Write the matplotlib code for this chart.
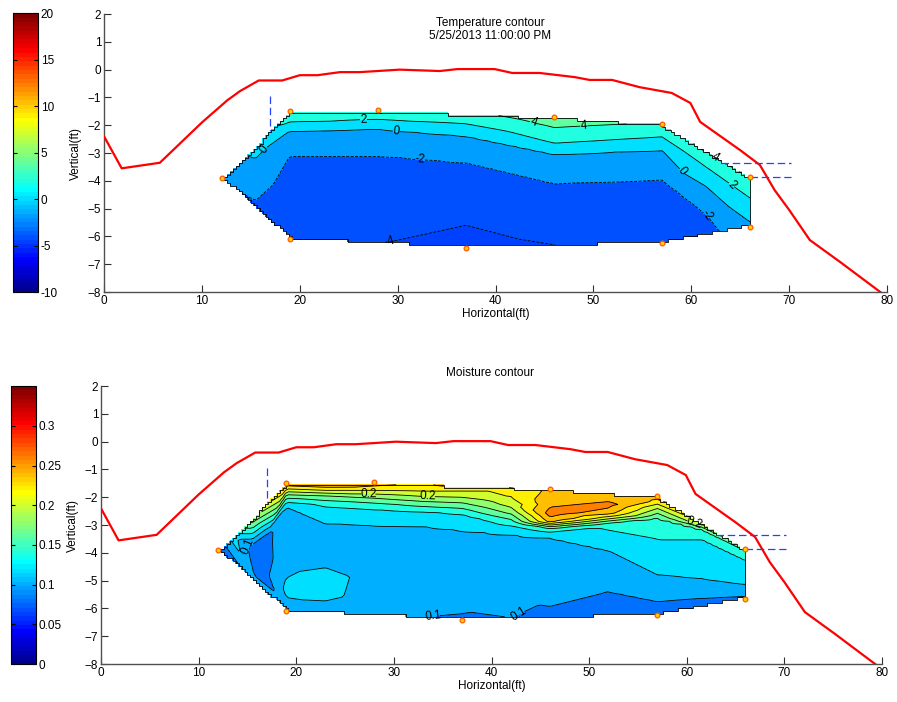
import numpy as np
import matplotlib.pyplot as plt
import matplotlib.tri as mtri
from matplotlib.colors import Normalize, ListedColormap
from matplotlib.cm import ScalarMappable
from matplotlib.ticker import FormatStrFormatter

plt.rcParams['font.family'] = ['Liberation Sans', 'DejaVu Sans']
plt.rcParams['font.size'] = 8.5

# embankment surface profile (ft)
surf_x = [0, 1.8, 5.7, 10, 12.6, 13.9, 15.8, 18.2, 20, 21.8, 24.1, 26.1, 30.2, 34.3,
          36.1, 39.9, 41.7, 44.5, 48.1, 49.6, 51.9, 54.7, 58.0, 59.9, 60.9, 65.0,
          67.0, 68.5, 70.0, 72.1, 75.2, 79.3]
surf_y = [-2.4, -3.55, -3.35, -1.9, -1.1, -0.77, -0.39, -0.39, -0.2, -0.2, -0.09, -0.09,
          0.0, -0.05, 0.02, 0.02, -0.12, -0.12, -0.27, -0.37, -0.37, -0.63, -0.84, -1.2,
          -1.88, -2.9, -3.43, -4.33, -5.05, -6.13, -6.92, -8.0]

# outer sensor ring
sens_x = [12, 19, 28, 46, 57, 66, 66, 57, 37, 19]
sens_y = [-3.9, -1.5, -1.45, -1.7, -1.95, -3.85, -5.65, -6.25, -6.4, -6.1]

# temperature readings at all probes
temp_x = [12,
          15.5, 15.5, 15.5,
          19, 19, 19, 19, 19, 19,
          28, 28, 28, 28, 28, 28,
          37, 37, 37, 37, 37, 37,
          46, 46, 46, 46, 46, 46, 46,
          57, 57, 57, 57, 57,
          61.5, 61.5, 61.5, 61.5, 61.5,
          66, 66, 66, 66]
temp_y = [-3.9,
          -2.72, -3.8, -4.98,
          -1.5, -1.9, -2.2, -3.1, -4.5, -6.1,
          -1.45, -1.8, -2.15, -3.1, -4.6, -6.22,
          -1.6, -1.95, -2.4, -3.35, -5.6, -6.4,
          -1.7, -2.0, -2.65, -3.05, -4.1, -5.9, -6.3,
          -1.95, -2.42, -2.9, -3.97, -6.25,
          -2.93, -3.5, -4.2, -5.2, -5.92,
          -3.85, -4.62, -5.48, -5.65]
temp_v = [-1.8,
          0.8, -1.0, -2.3,
          3.0, 2.0, 0.0, -2.0, -3.0, -3.6,
          3.2, 2.0, 0.0, -2.0, -3.0, -3.95,
          3.4, 2.0, 0.0, -2.0, -4.0, -4.6,
          5.2, 4.3, 2.0, 0.0, -2.0, -3.6, -4.0,
          3.8, 2.0, 0.0, -2.0, -3.7,
          4.2, 2.0, 0.0, -2.0, -2.8,
          4.2, 2.0, 0.0, -0.8]

# volumetric moisture readings at all probes
moist_x = [12, 13.5,
           15.5, 15.5, 15.5, 17.2, 16.5, 18.3,
           19, 19, 19, 19, 19, 19, 19, 19, 19,
           23, 23, 23, 23, 23, 23, 23, 23, 23,
           28, 28, 28, 28, 28, 28, 28, 28,
           33, 33, 33, 33, 33, 33, 33, 33, 33,
           37, 37, 37, 37, 37, 37, 37, 37, 37,
           42, 42, 42, 42, 42, 42, 42, 42, 42,
           46, 46, 46, 46, 46, 46, 46, 46, 46,
           52, 52, 52, 52, 52, 52, 52, 52, 52,
           57, 57, 57, 57, 57, 57, 57, 57,
           61.5, 61.5, 61.5, 61.5, 61.5, 61.5,
           66, 66, 66, 66, 66]
moist_y = [-3.9, -3.41,
           -2.72, -3.8, -4.98, -3.3, -4.6, -4.0,
           -1.5, -1.7, -1.9, -2.1, -2.35, -3.2, -4.4, -5.4, -6.1,
           -1.5, -1.75, -1.95, -2.2, -2.5, -2.95, -4.0, -5.2, -6.15,
           -1.45, -1.75, -1.95, -2.2, -2.45, -3.0, -4.5, -6.22,
           -1.54, -1.79, -1.97, -2.15, -2.33, -2.51, -3.05, -4.5, -6.31,
           -1.6, -1.85, -2.05, -2.25, -2.45, -2.65, -3.2, -4.5, -6.4,
           -1.67, -2.0, -2.3, -2.55, -2.75, -2.95, -3.35, -4.8, -6.33,
           -1.7, -2.2, -2.6, -2.85, -3.0, -3.15, -3.47, -4.8, -6.3,
           -1.86, -2.3, -2.55, -2.7, -2.85, -3.0, -3.92, -5.4, -6.26,
           -1.95, -2.09, -2.4, -2.75, -3.5, -4.79, -5.75, -6.25,
           -2.93, -3.15, -3.5, -4.94, -5.63, -5.92,
           -3.85, -4.25, -5.15, -5.57, -5.65]
moist_v = [0.078, 0.13,
           0.2, 0.09, 0.105, 0.097, 0.09, 0.106,
           0.255, 0.22, 0.18, 0.15, 0.12, 0.11, 0.115, 0.125, 0.108,
           0.265, 0.22, 0.18, 0.15, 0.13, 0.12, 0.112, 0.13, 0.112,
           0.258, 0.22, 0.19, 0.16, 0.14, 0.12, 0.11, 0.103,
           0.235, 0.22, 0.2, 0.18, 0.16, 0.14, 0.12, 0.108, 0.1,
           0.232, 0.215, 0.195, 0.175, 0.155, 0.138, 0.12, 0.108, 0.099,
           0.225, 0.22, 0.205, 0.185, 0.165, 0.145, 0.12, 0.105, 0.1,
           0.245, 0.255, 0.268, 0.25, 0.2, 0.15, 0.12, 0.106, 0.098,
           0.25, 0.265, 0.25, 0.22, 0.18, 0.145, 0.12, 0.1, 0.09,
           0.25, 0.24, 0.2, 0.16, 0.14, 0.12, 0.1, 0.09,
           0.215, 0.16, 0.14, 0.12, 0.1, 0.093,
           0.165, 0.14, 0.12, 0.1, 0.095]

temp_labels = [(26.5, -1.8), (44, -1.8), (49, -1.95), (29.9, -2.17), (32.3, -3.2),
               (27.2, -6.2), (59.3, -3.6), (63.9, -4.2), (62.4, -3.1), (61.2, -5.3),
               (16, -2.8)]
moist_labels = [(27.4, -1.85), (33.5, -1.97), (14.5, -3.72), (34, -6.3), (43, -6.3),
                (60.6, -3.0)]


def jet64():
    # 64-entry jet table, piecewise ramps of 16 rows
    k = np.arange(1, 65)
    r = np.clip(np.minimum((k - 24) / 16, 1 - (k - 56) / 16), 0, 1)
    g = np.clip(np.minimum((k - 8) / 16, 1 - (k - 40) / 16), 0, 1)
    b = np.clip(np.minimum(0.5 + k / 16, 1 - (k - 24) / 16), 0, 1)
    return np.column_stack([r, g, b])


JET = jet64()


def jet_color(v, vmin, vmax):
    i = int((v - vmin) / (vmax - vmin) * 64)
    return JET[min(max(i, 0), 63)]


def draw_panel(ax, cax, px, py, pv, vmin, vmax, step, cticks, lab_levels, lab_pos, fmt):
    tri = mtri.Triangulation(px, py)
    interp = mtri.LinearTriInterpolator(tri, pv)
    gx, gy = np.meshgrid(np.linspace(12, 66, 181), np.linspace(-6.4, -1.45, 50))
    gz = interp(gx, gy)

    zmin, zmax = float(gz.min()), float(gz.max())
    lv = np.round(np.arange(np.ceil(zmin / step) * step, zmax, step), 4)
    lv = [float(v) for v in lv if zmin < v < zmax]
    fill_lv = [zmin] + lv + [zmax]
    colors = [jet_color(v, vmin, vmax) for v in fill_lv[:-1]]

    ax.contourf(gx, gy, gz, levels=fill_lv, colors=colors, corner_mask=False, zorder=1)
    outline = ax.contourf(gx, gy, gz, levels=[zmin - 1, zmax + 1], colors='none',
                          corner_mask=False, zorder=2)
    outline.set_edgecolor('k')
    outline.set_linewidth(0.6)

    lab_lv = [v for v in lv if any(abs(v - t) < 1e-9 for t in lab_levels)]
    plain_lv = [v for v in lv if v not in lab_lv]
    if plain_lv:
        ax.contour(gx, gy, gz, levels=plain_lv, colors='k', linewidths=0.6,
                   corner_mask=False, zorder=2)
    cs = ax.contour(gx, gy, gz, levels=lab_lv, colors='k', linewidths=0.6,
                    corner_mask=False, zorder=2)
    ax.clabel(cs, manual=lab_pos, fmt=fmt, fontsize=8.5, inline=True, inline_spacing=2)

    ax.plot(surf_x, surf_y, color='red', lw=1.6, zorder=3)
    ax.plot(sens_x, sens_y, 'o', ms=3.4, mfc='#ffd200', mec='#ff5a00', mew=0.9,
            zorder=5, clip_on=False)
    dash = dict(color=(0.15, 0.25, 1.0), lw=0.9, ls=(0, (6, 3)), zorder=4)
    ax.plot([17, 17], [-0.95, -2.2], **dash)
    ax.plot([63, 70.2], [-3.35, -3.35], **dash)
    ax.plot([66, 70.2], [-3.85, -3.85], **dash)

    ax.set_xlim(0, 80)
    ax.set_ylim(-8, 2)
    ax.set_xticks(range(0, 81, 10))
    ax.set_yticks(range(-8, 3))
    ax.spines['top'].set_visible(False)
    ax.spines['right'].set_visible(False)
    for s in ('left', 'bottom'):
        ax.spines[s].set_color('#505050')
        ax.spines[s].set_linewidth(1.0)
    ax.tick_params(direction='in', length=5, color='#303030', pad=2)
    ax.set_xlabel('Horizontal(ft)', labelpad=1)
    ax.set_ylabel('Vertical(ft)', labelpad=4)

    sm = ScalarMappable(norm=Normalize(vmin, vmax), cmap=ListedColormap(JET))
    cb = plt.colorbar(sm, cax=cax, ticks=cticks)
    cb.outline.set_linewidth(0.8)
    cax.yaxis.set_ticks_position('both')
    cax.tick_params(direction='in', length=3, labelright=True, labelleft=False, pad=2)
    cax.yaxis.set_major_formatter(FormatStrFormatter('%g'))


fig = plt.figure(figsize=(8.97, 7.02), dpi=100)
ax1 = fig.add_axes([0.116, 0.584, 0.873, 0.396])
cax1 = fig.add_axes([0.0145, 0.584, 0.028, 0.397])
ax2 = fig.add_axes([0.1126, 0.054, 0.8707, 0.396])
cax2 = fig.add_axes([0.0123, 0.054, 0.028, 0.396])

draw_panel(ax1, cax1, temp_x, temp_y, temp_v, -10, 20, 2.0,
           [-10, -5, 0, 5, 10, 15, 20], [-4.0, -2.0, 0.0, 2.0, 4.0],
           temp_labels, '%g')
ax1.text(0.493, 0.99, 'Temperature contour\n5/25/2013 11:00:00 PM', transform=ax1.transAxes,
         ha='center', va='top', fontsize=8.5, linespacing=1.15)

draw_panel(ax2, cax2, moist_x, moist_y, moist_v, 0, 0.35, 0.02,
           [0, 0.05, 0.1, 0.15, 0.2, 0.25, 0.3], [0.1, 0.2],
           moist_labels, '%g')
ax2.text(0.498, 1.047, 'Moisture contour', transform=ax2.transAxes,
         ha='center', va='center', fontsize=8.5)

fig.savefig('out.png', dpi=100)
